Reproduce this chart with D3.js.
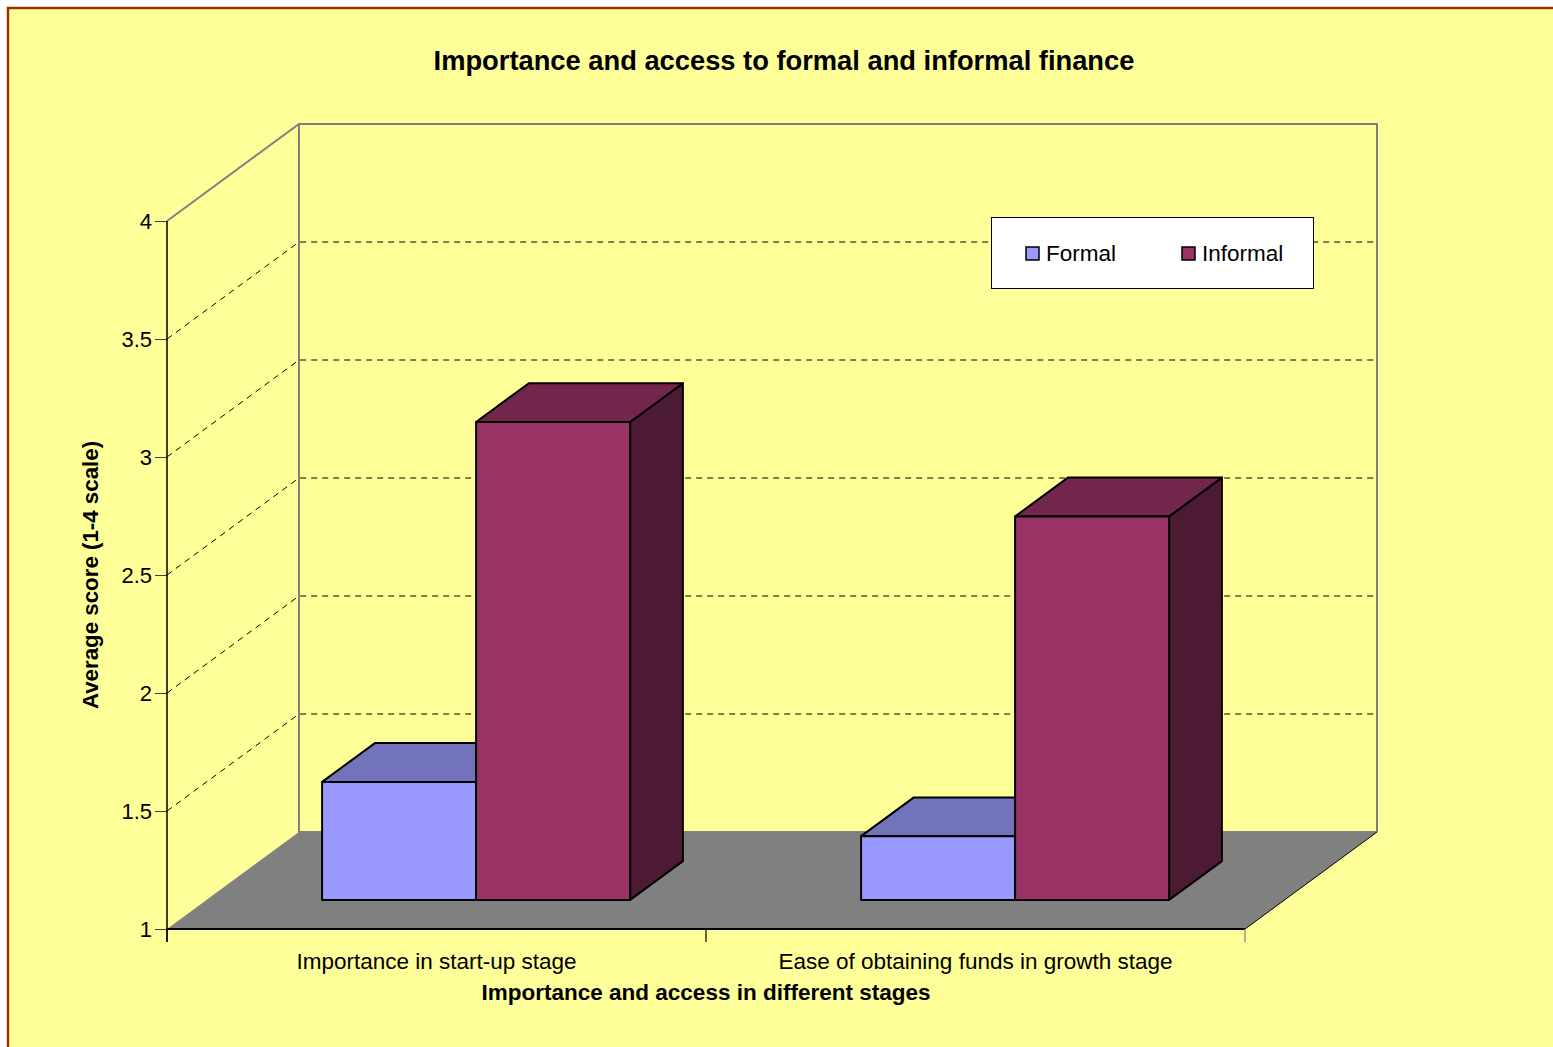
<!DOCTYPE html>
<html>
<head>
<meta charset="utf-8">
<script src="https://cdn.jsdelivr.net/npm/d3@7/dist/d3.min.js"></script>
<style>
  html, body { margin: 0; padding: 0; background: #ffffff; }
  svg { display: block; }
  text { font-family: "Liberation Sans", Arial, sans-serif; fill: #000; }
</style>
</head>
<body>
<svg id="chart" width="1553" height="1047"></svg>
<script>
// ---- data ----
const categories = ["Importance in start-up stage", "Ease of obtaining funds in growth stage"];
const series = ["Formal", "Informal"];
const formalValues = [1.5, 1.27];
const informalValues = [3.025, 2.625];
const yTicks = [1, 1.5, 2, 2.5, 3, 3.5, 4];
const gridValues = [1.5, 2, 2.5, 3, 3.5];
const chartTitle = "Importance and access to formal and informal finance";
const xTitle = "Importance and access in different stages";
const yTitle = "Average score (1-4 scale)";

const values = { Formal: formalValues, Informal: informalValues };
const colors = {
  Formal:   { front: "#9999FF", top: "#7373BB", side: "#4D4D80" },
  Informal: { front: "#993366", top: "#73264C", side: "#4D1A33" }
};

// ---- geometry ----
const svg = d3.select("#chart");
const left = 167, right = 1245;
const depthX = 132, depthY = -97;       // full depth offset of the plot box
const barD0 = 0.3, barD1 = 0.7;         // bar depth position (fraction)

const y = d3.scaleLinear().domain([1, 4]).range([929, 221]);
const x0 = d3.scaleBand().domain(categories).range([left, right]).padding(0);
const x1 = d3.scaleBand().domain(series).range([0, x0.bandwidth()]).paddingInner(0).paddingOuter(0.75);

// projection helper: (frontX, value, depthFraction) -> [px, py]
const P = (fx, v, d) => [fx + d * depthX, y(v) + d * depthY];

// background
svg.append("rect").attr("x", 8).attr("y", 8).attr("width", 1553).attr("height", 1047)
  .attr("fill", "#FFFF99").attr("stroke", "#993300").attr("stroke-width", 2.5);

// title
svg.append("text").attr("x", 784).attr("y", 70).attr("text-anchor", "middle")
  .attr("font-size", 27.3).attr("font-weight", "bold").text(chartTitle);

const line = d3.line();

// back wall gridlines (dashed)
gridValues.forEach(v => {
  const a = P(left, v, 0), b = P(left, v, 1), c = P(right, v, 1);
  svg.append("path").attr("d", line([a, b, c])).attr("fill", "none")
    .attr("stroke", "#000").attr("stroke-width", 1).attr("stroke-dasharray", "6,5");
});

// floor
const floorPts = [P(left, 1, 0), P(right, 1, 0), P(right, 1, 1), P(left, 1, 1)];
svg.append("path").attr("d", line(floorPts) + "Z").attr("fill", "#808080").attr("stroke", "none");

// back wall & left wall edges (gray)
svg.append("path").attr("d", line([P(left, 4, 0), P(left, 4, 1), P(right, 4, 1), P(right, 1, 1)]))
  .attr("fill", "none").attr("stroke", "#808080").attr("stroke-width", 2);
svg.append("path").attr("d", line([P(left, 4, 1), P(left, 1, 1), P(right, 1, 1)]))
  .attr("fill", "none").attr("stroke", "#808080").attr("stroke-width", 2);
// floor right edge
svg.append("path").attr("d", line([P(right, 1, 0), P(right, 1, 1)]))
  .attr("fill", "none").attr("stroke", "#000").attr("stroke-width", 1);

// bars
categories.forEach((cat, ci) => {
  series.forEach(s => {
    const v = values[s][ci];
    const xa = x0(cat) + x1(s), xb = xa + x1.bandwidth();
    const c = colors[s];
    const g = svg.append("g");
    const side = [P(xb, 1, barD0), P(xb, 1, barD1), P(xb, v, barD1), P(xb, v, barD0)];
    const top = [P(xa, v, barD0), P(xb, v, barD0), P(xb, v, barD1), P(xa, v, barD1)];
    const front = [P(xa, 1, barD0), P(xb, 1, barD0), P(xb, v, barD0), P(xa, v, barD0)];
    [[side, c.side], [top, c.top], [front, c.front]].forEach(([pts, fill]) => {
      g.append("path").attr("d", line(pts) + "Z").attr("fill", fill)
        .attr("stroke", "#000").attr("stroke-width", 2).attr("stroke-linejoin", "round");
    });
  });
});

// y axis
const yAxis = d3.axisLeft(y).tickValues(yTicks).tickSize(12).tickPadding(3).tickFormat(d3.format(""));
const yg = svg.append("g").attr("transform", `translate(${left},0)`).call(yAxis);
yg.select(".domain").remove();
yg.selectAll(".tick line").attr("stroke", "#404040").attr("stroke-width", 1);
yg.selectAll(".tick text").attr("font-size", 22).attr("font-family", "Liberation Sans, Arial, sans-serif").attr("fill", "#000");
svg.append("line").attr("x1", left).attr("x2", left).attr("y1", y(4)).attr("y2", y(1) + 13)
  .attr("stroke", "#000").attr("stroke-width", 1.5);

// x axis line + boundary ticks
svg.append("line").attr("x1", left).attr("x2", right).attr("y1", y(1)).attr("y2", y(1))
  .attr("stroke", "#000").attr("stroke-width", 2);
const boundaries = categories.map(c => x0(c)).concat([x0.range()[1]]);
boundaries.forEach((bx, i) => {
  svg.append("line").attr("x1", bx).attr("x2", bx).attr("y1", y(1)).attr("y2", y(1) + 13)
    .attr("stroke", i === boundaries.length - 1 ? "#808080" : "#000").attr("stroke-width", 1.2);
});
const xAxis = d3.axisBottom(x0).tickSize(0).tickPadding(0);
const xg = svg.append("g").attr("transform", `translate(0,${y(1)})`).call(xAxis);
xg.select(".domain").remove();
xg.selectAll(".tick text").attr("font-size", 22.5).attr("font-family", "Liberation Sans, Arial, sans-serif")
  .attr("fill", "#000").attr("dy", null).attr("y", 40);

// axis titles
svg.append("text").attr("x", 706).attr("y", 1000).attr("text-anchor", "middle")
  .attr("font-size", 22.5).attr("font-weight", "bold").text(xTitle);
svg.append("text").attr("transform", "translate(98,575) rotate(-90)").attr("text-anchor", "middle")
  .attr("font-size", 22.3).attr("font-weight", "bold").text(yTitle);

// legend
const lg = svg.append("g");
lg.append("rect").attr("x", 991.5).attr("y", 217.5).attr("width", 322).attr("height", 71)
  .attr("fill", "#fff").attr("stroke", "#000").attr("stroke-width", 1);
const legendX = [1026, 1182];
series.forEach((s, i) => {
  lg.append("rect").attr("x", legendX[i]).attr("y", 247).attr("width", 13).attr("height", 13)
    .attr("fill", colors[s].front).attr("stroke", "#000").attr("stroke-width", 1.5);
  lg.append("text").attr("x", legendX[i] + 20).attr("y", 261).attr("font-size", 22.5).text(s);
});
</script>
</body>
</html>
